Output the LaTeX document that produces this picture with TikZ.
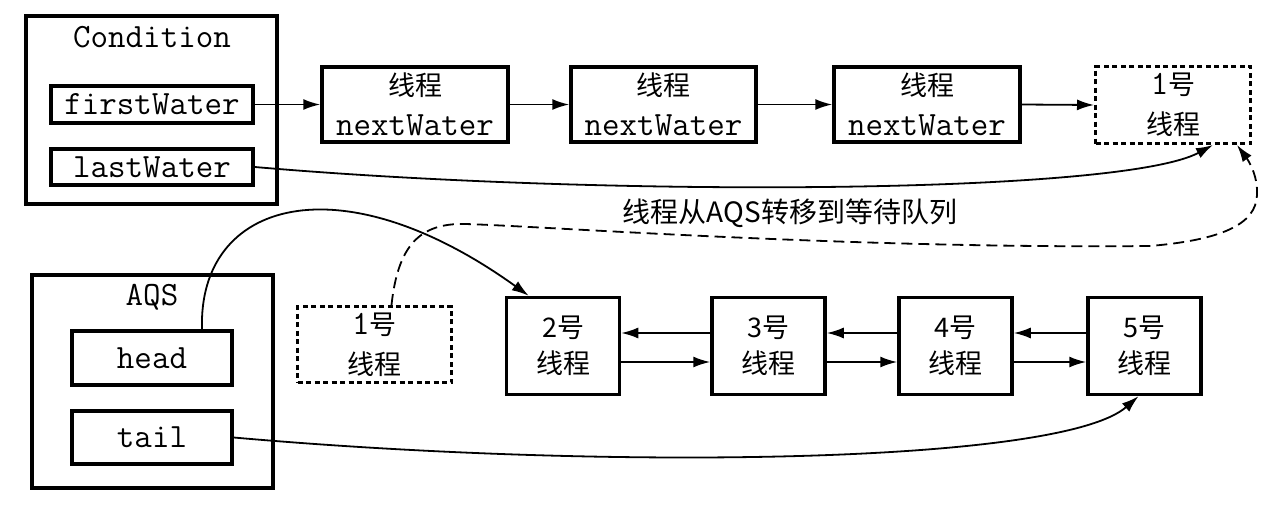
\documentclass[tikz,border=0pt]{standalone}
\usepackage{fontspec}
\newfontfamily\cjk{Noto Sans CJK SC}
\usetikzlibrary{arrows.meta,calc}
\begin{document}
\begin{tikzpicture}[x=1pt,y=-1pt,
  box/.style={draw, line width=3.5pt, inner sep=0pt, align=center},
  dbox/.style={draw, line width=3pt, dash pattern=on 5pt off 3.5pt, inner sep=0pt, align=center},
  arr/.style={line width=1.8pt, -{Latex[length=17pt,width=11pt]}},
  darr/.style={arr, dash pattern=on 11pt off 6pt},
  mono/.style={font=\fontsize{34}{40}\selectfont\ttfamily},
  two/.style={font=\fontsize{27}{40}\selectfont},
  twob/.style={font=\fontsize{27}{36}\selectfont},
]
\useasboundingbox (0,0) rectangle (1284,506);
% Condition
\node[box, minimum width=251pt, minimum height=188pt] (cond) at (151.5,110) {};
\node[mono] (condt) at (152,37) {Condition};
\node[box, mono, minimum width=202pt, minimum height=37pt] (first) at (152,104.5) {firstWater};
\node[box, mono, minimum width=202pt, minimum height=36pt] (last) at (152,167) {lastWater};
% top chain
\node[box, two, minimum width=186pt, minimum height=75pt] (n1) at (415,104.5) {{\cjk 线程}\\{\fontsize{34}{40}\selectfont\ttfamily nextWater}};
\node[box, two, minimum width=185pt, minimum height=75pt] (n2) at (663.5,104.5) {{\cjk 线程}\\{\fontsize{34}{40}\selectfont\ttfamily nextWater}};
\node[box, two, minimum width=186pt, minimum height=75pt] (n3) at (927,104.5) {{\cjk 线程}\\{\fontsize{34}{40}\selectfont\ttfamily nextWater}};
\node[dbox, two, minimum width=155pt, minimum height=77pt] (d1) at (1173,105) {{\fontsize{34}{40}\selectfont\ttfamily 1}{\cjk 号}\\{\cjk 线程}};
% AQS
\node[box, minimum width=241pt, minimum height=213pt] (aqs) at (152.5,381.5) {};
\node[mono] (aqst) at (152,297) {AQS};
\node[box, mono, minimum width=160pt, minimum height=54pt] (head) at (152,358) {head};
\node[box, mono, minimum width=160pt, minimum height=53pt] (tail) at (152,437.5) {tail};
\node[dbox, two, minimum width=154pt, minimum height=76pt] (d2) at (374.5,344.5) {{\fontsize{34}{40}\selectfont\ttfamily 1}{\cjk 号}\\{\cjk 线程}};
% bottom chain
\node[box, twob, minimum width=113pt, minimum height=97pt] (b2) at (563,346) {{\cjk 2号}\\{\cjk 线程}};
\node[box, twob, minimum width=113pt, minimum height=97pt] (b3) at (768.5,346) {{\cjk 3号}\\{\cjk 线程}};
\node[box, twob, minimum width=113pt, minimum height=97pt] (b4) at (955.5,346) {{\cjk 4号}\\{\cjk 线程}};
\node[box, twob, minimum width=113pt, minimum height=97pt] (b5) at (1144.5,346) {{\cjk 5号}\\{\cjk 线程}};
% label
\node[font=\fontsize{28}{32}\selectfont\cjk] (lab) at (790,213) {线程从AQS转移到等待队列};
% top arrows
\draw[arr] (first.east) -- (n1.west);
\draw[arr] (n1.east) -- (n2.west);
\draw[arr] (n2.east) -- (n3.west);
\draw[arr] (n3.east) -- (d1.west);
\draw[arr] (last.east) .. controls (600,197) and (1120,195) .. ($(d1.south)+(40,0)$);
% bottom arrows
\foreach \a/\b in {b2/b3,b3/b4,b4/b5}{
  \draw[arr] ([yshift=-16pt]\a.east) -- ([yshift=-16pt]\b.west);
  \draw[arr] ([yshift=13pt]\b.west) -- ([yshift=13pt]\a.east);
}
\draw[arr] ($(head.north)+(50,0)$) .. controls (198,200) and (340,160) .. ($(b2.north west)+(24,0)$);
\draw[arr] (tail.east) .. controls (600,470) and (1060,465) .. ($(b5.south)+(-6,0)$);
% dashed transfer
\draw[darr] ($(d2.north)+(17,0)$) .. controls (398,245) and (420,223) .. (465,224)
  .. controls (540,226) and (850,249) .. (1150,246)
  .. controls (1220,240) and (1256,225) .. (1257,195)
  .. controls (1258,175) and (1248,160) .. ($(d1.south)+(64,0)$);
\end{tikzpicture}
\end{document}
